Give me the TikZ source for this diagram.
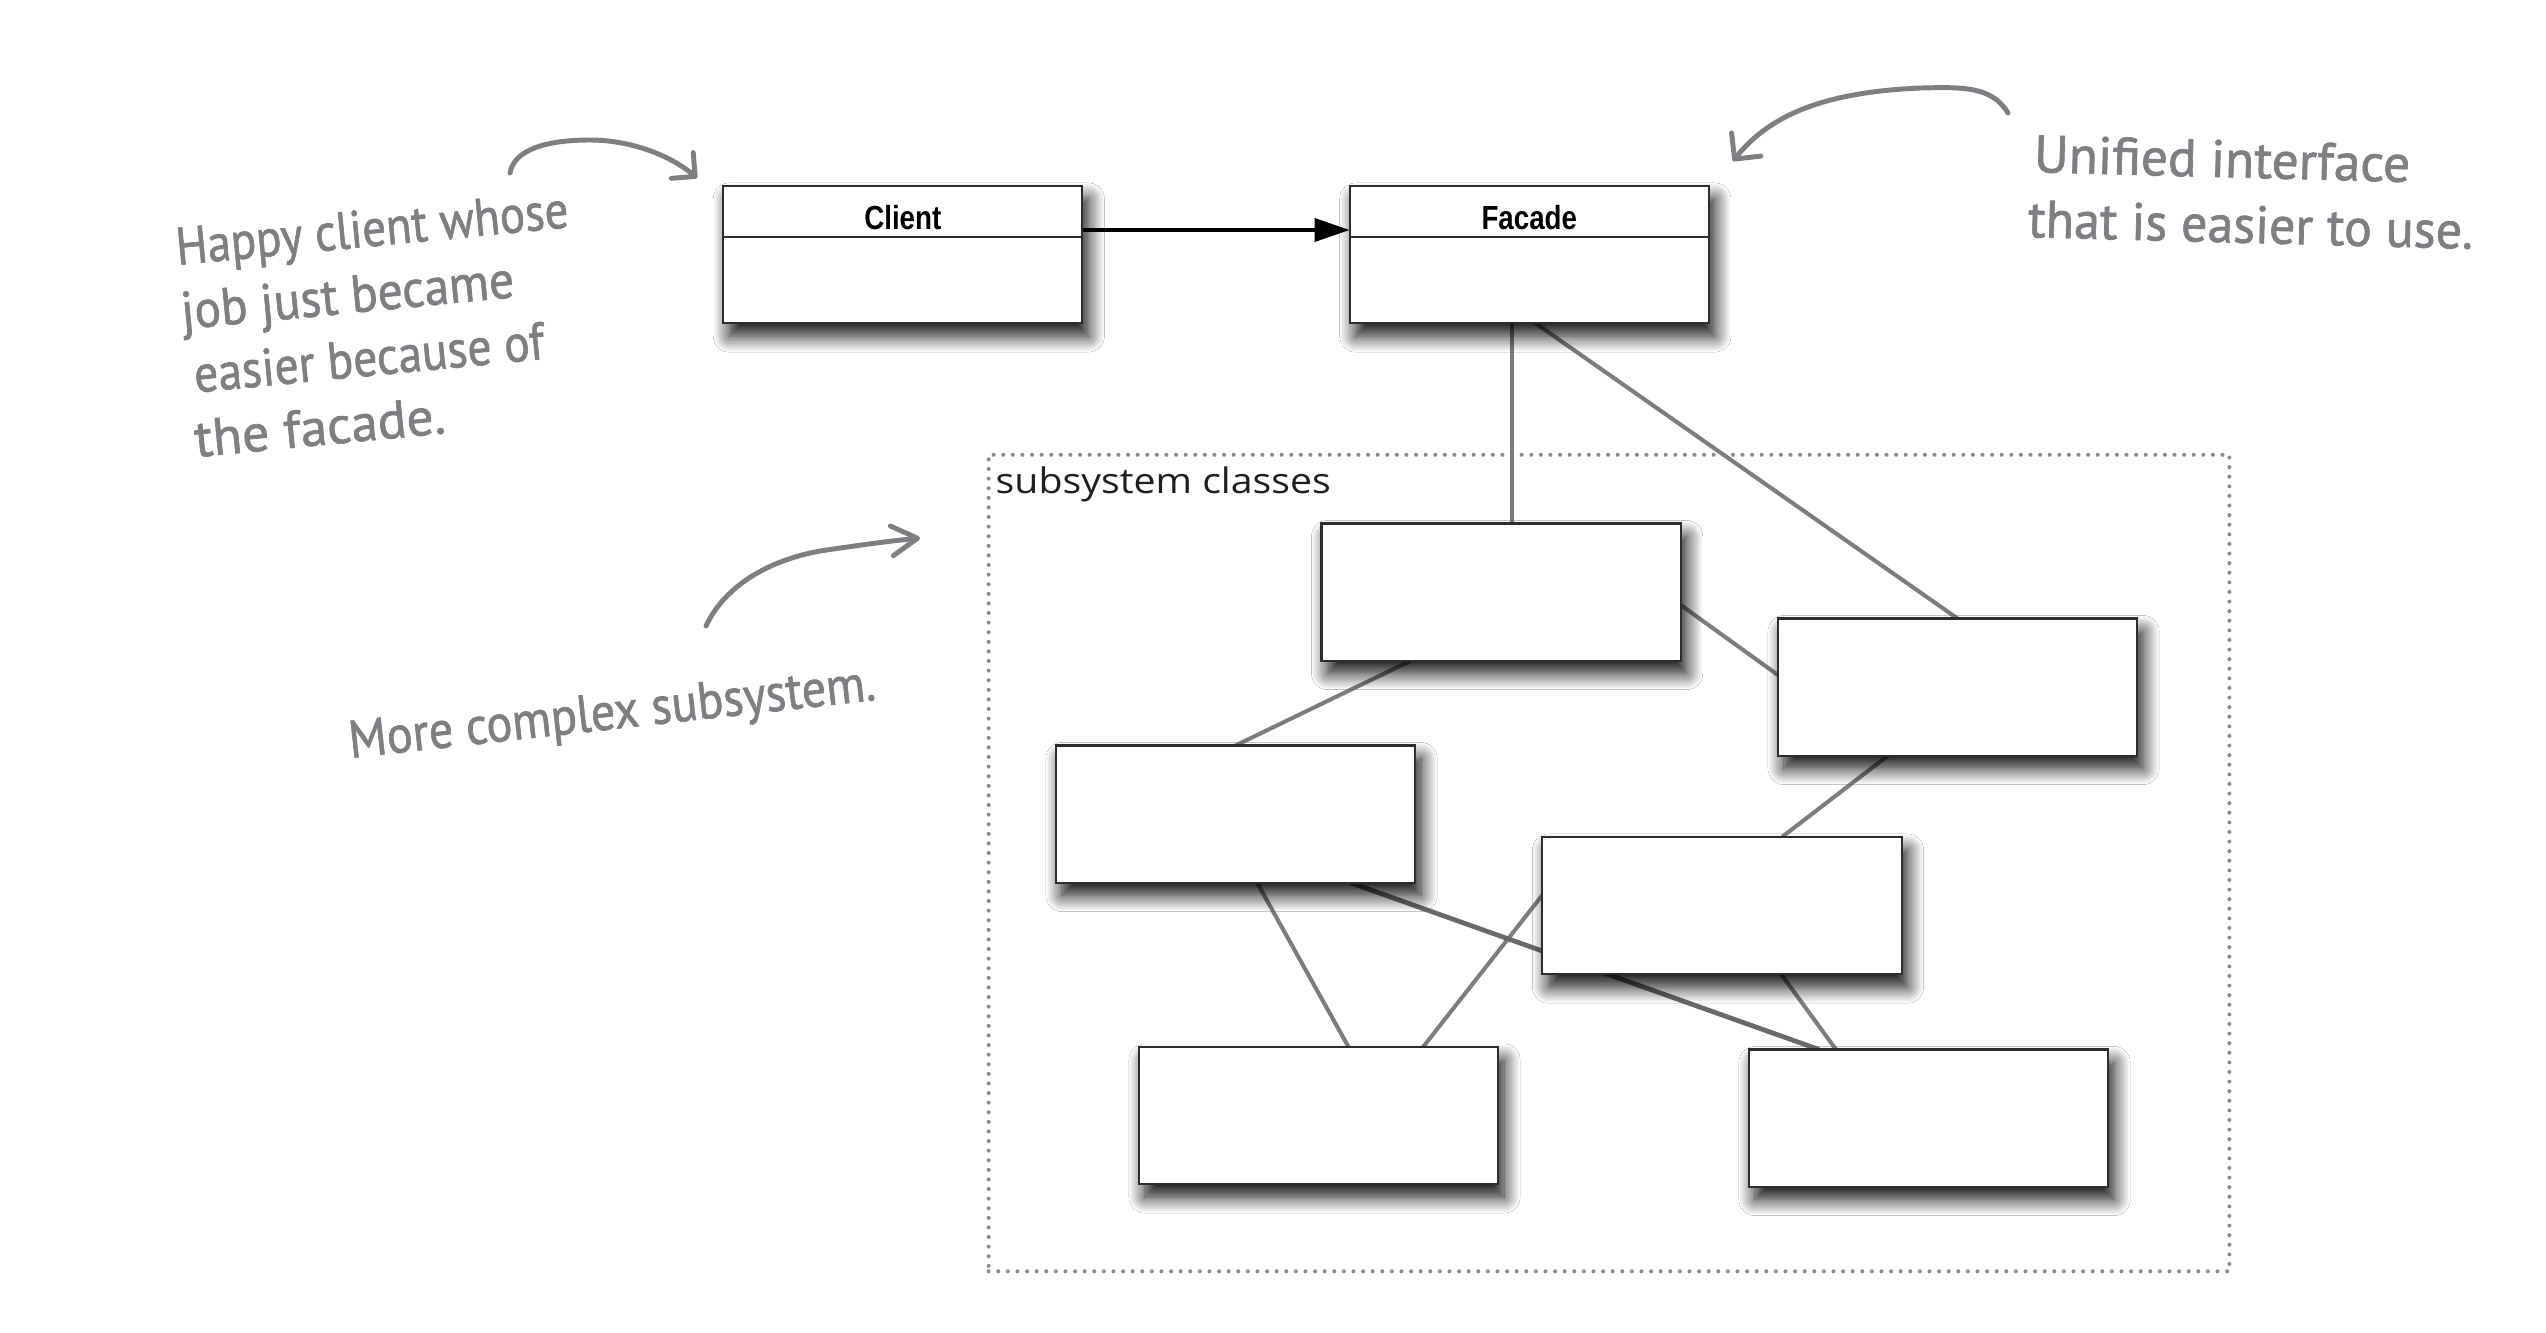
\documentclass[tikz,border=0pt]{standalone}
\usepackage{fontspec}
\usepackage{graphicx}
\setmainfont{Liberation Sans}
\newfontfamily\handfont[FakeBold=1.3]{PT Sans}
\newfontfamily\labelfont{Open Sans}
\usetikzlibrary{arrows.meta,shadows.blur}
\definecolor{hand}{RGB}{127,127,131}
\definecolor{linkgray}{RGB}{125,125,127}
\definecolor{linkdark}{RGB}{105,105,107}
\definecolor{boxline}{RGB}{45,45,45}
\definecolor{dotgray}{RGB}{140,140,142}
\begin{document}
\begin{tikzpicture}[x=0.01cm,y=-0.01cm,
  slot/.style={minimum width=3.59cm, minimum height=1.37cm, inner sep=0pt, outer sep=0pt},
  cls/.style={slot, draw=boxline, fill=white, line width=0.6pt,
    blur shadow={shadow xshift=0.06cm, shadow yshift=-0.13cm,
      shadow blur radius=0.16cm, shadow blur steps=14, shadow opacity=95}},
  title/.style={anchor=base, inner sep=0pt, font=\fontsize{9.5}{11}\selectfont\bfseries},
  link/.style={draw=linkgray, line width=1.15pt},
  linkb/.style={draw=linkdark, line width=1.35pt},
  uses/.style={draw=black, line width=1.2pt, -{Triangle[length=10pt,width=6.5pt]}},
  frame/.style={draw=dotgray, line width=1.15pt, dash pattern=on 0pt off 2.73pt,
    line cap=round, inner sep=0pt, minimum width=12.4cm, minimum height=8.16cm},
  hnote/.style={hand, anchor=base west, inner sep=0pt},
  harrow/.style={draw=hand, line width=1.4pt, line cap=round, line join=round},
]
\useasboundingbox (0,0) rectangle (2546,1332);
\fill[white] (0,0) rectangle (2546,1332);

% subsystem frame
\node[frame] (sub) at (1609,863) {};
\node[anchor=base west, inner sep=0pt, text=black!88,
  font=\labelfont\fontsize{10}{12}\selectfont] (subl) at (995,493)
  {\resizebox{95.3pt}{\height}{subsystem classes}};

% invisible slots of the class boxes, for the connectors
\node[slot] (Client0) at (902.8,254.5) {};
\node[slot] (Facade0) at (1529.3,254.5) {};
\node[slot] (A0) at (1501.1,592) {};
\node[slot] (B0) at (1957.5,687) {};
\node[slot] (C0) at (1235.5,814) {};
\node[slot] (D0) at (1722,905.5) {};
\node[slot] (E0) at (1318.5,1115.5) {};
\node[slot] (F0) at (1928.5,1118) {};

% connectors (drawn first: shadows and boxes lie on top)
\draw[uses] ([yshift=0.245cm]Client0.east) -- ([yshift=0.245cm]Facade0.west);
\draw[link] ([xshift=-0.17cm]Facade0.south) -- ([xshift=-0.17cm]Facade0.south |- A0.north);
\draw[link] ([xshift=0.06cm]Facade0.south) -- (B0.north);
\draw[link] ([yshift=-0.13cm]A0.east) -- ([yshift=0.12cm]B0.west);
\draw[link] ([xshift=-0.90cm]A0.south) -- (C0.north);
\draw[link] ([xshift=-0.695cm]B0.south) -- ([xshift=0.60cm]D0.north);
\draw[link] ([xshift=0.215cm]C0.south) -- ([xshift=0.30cm]E0.north);
\draw[link] ([yshift=0.105cm]D0.west) -- ([xshift=1.045cm]E0.north);
\draw[linkb] ([xshift=1.145cm]C0.south) -- ([xshift=-1.095cm]F0.north);
\draw[link] ([xshift=0.59cm]D0.south) -- ([xshift=-0.925cm]F0.north);

% class boxes
\node[cls] (Client) at (Client0) {};
\node[cls] (Facade) at (Facade0) {};
\draw[draw=boxline, line width=0.6pt] ([yshift=-0.51cm]Client.north west) -- ([yshift=-0.51cm]Client.north east);
\draw[draw=boxline, line width=0.6pt] ([yshift=-0.51cm]Facade.north west) -- ([yshift=-0.51cm]Facade.north east);
\node[title] (ClientT) at ([yshift=-0.43cm]Client.north) {\scalebox{0.83}[1]{Client}};
\node[title] (FacadeT) at ([yshift=-0.43cm]Facade.north) {\scalebox{0.83}[1]{Facade}};

\node[cls] (A) at (A0) {};
\node[cls] (B) at (B0) {};
\node[cls] (C) at (C0) {};
\node[cls] (D) at (D0) {};
\node[cls] (E) at (E0) {};
\node[cls] (F) at (F0) {};

% handwritten notes
\node[hnote, rotate=5.5] (n1) at (177,265) {\handfont\fontsize{15}{18.3}\selectfont
  \begin{tabular}[t]{@{}l@{}}
  \resizebox{112pt}{\height}{Happy client whose}\\
  \hspace*{-0.3pt}\resizebox{95pt}{\height}{job just became}\\
  \hspace*{1.6pt}\resizebox{100pt}{\height}{easier because of}\\
  \resizebox{71.5pt}{\height}{the facade.}
  \end{tabular}};

\node[hnote, rotate=-1.5] (n2) at (2028.7,172) {\handfont\fontsize{15}{18.5}\selectfont
  \begin{tabular}[t]{@{}l@{}}
  \hspace*{1.2pt}\resizebox{107pt}{\height}{Unified interface}\\
  \resizebox{126.6pt}{\height}{that is easier to use.}
  \end{tabular}};

\node[hnote, rotate=6.3] (n3) at (350,758) {\handfont\fontsize{15}{18}\selectfont
  \resizebox{150.5pt}{\height}{More complex subsystem.}};

% hand-drawn arrows
\coordinate (a1s) at (510,173);
\coordinate (a1e) at (697,178);
\draw[harrow, -{Straight Barb[angle=90:6.8pt, round]}]
  (a1s) .. controls (514,150) and (545,140) .. (590,140)
        .. controls (630,140) and (670,155) .. (a1e);

\coordinate (a2s) at (2008,113);
\coordinate (a2e) at (1733,161);
\draw[harrow, -{Straight Barb[angle=90:7.5pt, round]}]
  (a2s) .. controls (1992,86) and (1962,87) .. (1920,88)
        .. controls (1830,92) and (1772,112) .. (a2e);

\coordinate (a3s) at (706,626);
\coordinate (a3e) at (920,538);
\draw[harrow, -{Straight Barb[angle=60:8.5pt, round]}]
  (a3s) .. controls (725,585) and (770,560) .. (820,551)
        .. controls (860,545) and (890,541) .. (a3e);
\end{tikzpicture}
\end{document}
